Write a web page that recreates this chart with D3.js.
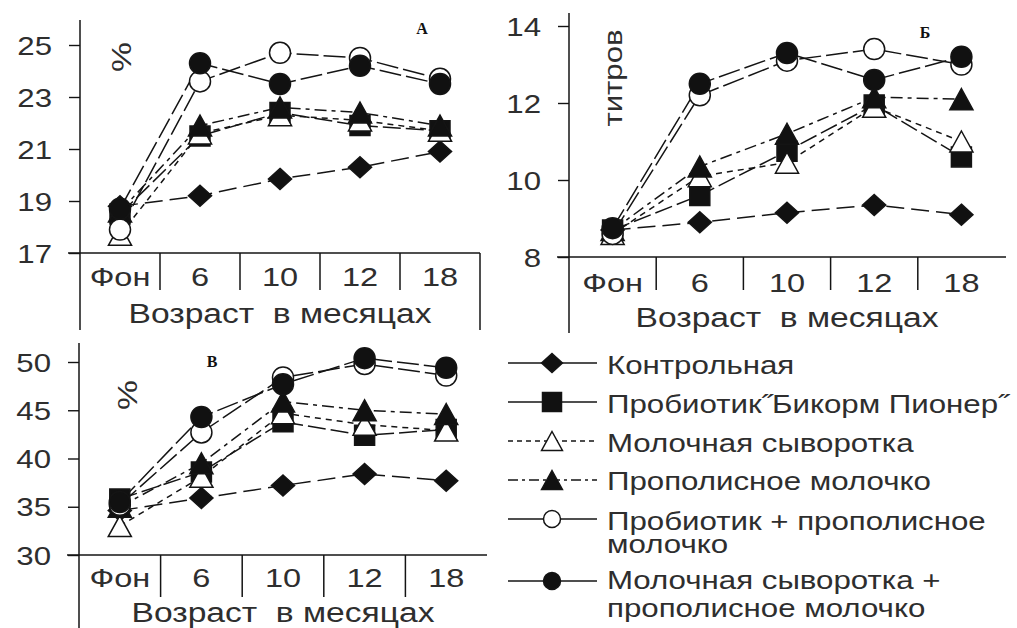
<!DOCTYPE html>
<html>
<head>
<meta charset="utf-8">
<script src="https://cdn.jsdelivr.net/npm/d3@7"></script>
<style>
  body { margin: 0; background: #fff; }
  svg { display: block; }
</style>
</head>
<body>
<svg id="chart" width="1017" height="628"></svg>
<script>
// Age points (x categories), shared by all three panels
const ages = ["Фон", "6", "10", "12", "18"];

// Group names (legend order); "|" marks a line break
const groups = [
  "Контрольная",
  "Пробиотик\u02DDБикорм Пионер\u02DD",
  "Молочная сыворотка",
  "Прополисное молочко",
  "Пробиотик + прополисное|молочко",
  "Молочная сыворотка +|прополисное молочко"
];

// Panel А, %
const panelA_control   = [18.8, 19.2, 19.85, 20.3, 20.9];
const panelA_probiotic = [18.5, 21.5, 22.4, 21.9, 21.7];
const panelA_whey      = [17.7, 21.6, 22.3, 22.1, 21.7];
const panelA_propolis  = [18.6, 21.9, 22.6, 22.4, 21.9];
const panelA_probProp  = [17.9, 23.6, 24.7, 24.5, 23.7];
const panelA_wheyProp  = [18.7, 24.3, 23.5, 24.2, 23.5];
const panelA_ticks     = [17, 19, 21, 23, 25];

// Panel Б, титров
const panelB_control   = [8.7, 8.9, 9.15, 9.35, 9.1];
const panelB_probiotic = [8.7, 9.6, 10.75, 11.95, 10.6];
const panelB_whey      = [8.6, 10.1, 10.45, 11.9, 11.0];
const panelB_propolis  = [8.7, 10.35, 11.2, 12.15, 12.1];
const panelB_probProp  = [8.6, 12.2, 13.1, 13.4, 13.0];
const panelB_wheyProp  = [8.75, 12.5, 13.3, 12.6, 13.2];
const panelB_ticks     = [8, 10, 12, 14];

// Panel В, %
const panelC_control   = [34.6, 35.9, 37.2, 38.4, 37.7];
const panelC_probiotic = [35.8, 38.6, 43.8, 42.4, 43.0];
const panelC_whey      = [33.0, 38.1, 44.7, 43.5, 42.9];
const panelC_propolis  = [35.0, 39.5, 45.9, 45.0, 44.6];
const panelC_probProp  = [35.2, 42.7, 48.4, 49.8, 48.6];
const panelC_wheyProp  = [35.5, 44.3, 47.7, 50.4, 49.4];
const panelC_ticks     = [30, 35, 40, 45, 50];

const xTitle = "Возраст  в месяцах";

// Marker / line style per group
const styles = [
  { marker: "diamond",  fill: "#111", plotDash: "18,7",      legendDash: null },
  { marker: "square",   fill: "#111", plotDash: "18,5",      legendDash: null },
  { marker: "triangle", fill: "#fff", plotDash: "6,5",       legendDash: "5,4" },
  { marker: "triangle", fill: "#111", plotDash: "12,5,4,5",  legendDash: "10,4,3,4" },
  { marker: "circle",   fill: "#fff", plotDash: "22,5",      legendDash: null },
  { marker: "circle",   fill: "#111", plotDash: "22,5",      legendDash: null }
];

const INK = "#141414";
const TEXT = "#2e2e2e";
const FONT = "'Liberation Sans', Arial, sans-serif";
const STRETCH = 1.2;

const svg = d3.select("#chart");

function label(g, x, y, str, opt = {}) {
  const size = opt.size || 26;
  const sx = opt.stretch === undefined ? STRETCH : opt.stretch;
  const rot = opt.rotate || 0;
  g.append("text")
    .attr("transform", `translate(${x},${y}) rotate(${rot}) scale(${sx},1)`)
    .attr("text-anchor", opt.anchor || "start")
    .attr("font-family", opt.family || FONT)
    .attr("font-weight", opt.weight || "normal")
    .attr("font-size", size)
    .attr("fill", opt.fill || TEXT)
    .style("white-space", "pre")
    .text(str);
}

function markerPath(type, size) {
  const s = size;
  if (type === "diamond") {
    const w = s * 0.55, h = s * 0.5;
    return `M0,${-h}L${w},0L0,${h}L${-w},0Z`;
  }
  if (type === "square") {
    const h = s / 2;
    return `M${-h},${-h}H${h}V${h}H${-h}Z`;
  }
  if (type === "triangle") {
    const w = s * 0.55, h = s * 0.5;
    return `M0,${-h}L${w},${h}L${-w},${h}Z`;
  }
  return null;
}

function drawMarker(g, type, fill, x, y, size) {
  if (type === "circle") {
    g.append("circle")
      .attr("cx", x).attr("cy", y).attr("r", size / 2)
      .attr("fill", fill).attr("stroke", INK).attr("stroke-width", 1.5);
  } else {
    g.append("path")
      .attr("d", markerPath(type, size))
      .attr("transform", `translate(${x},${y})`)
      .attr("fill", fill).attr("stroke", INK).attr("stroke-width", 1.5)
      .attr("stroke-linejoin", "miter");
  }
}

function panel(cfg) {
  const g = svg.append("g");
  const x = d3.scaleBand().domain(ages).range([cfg.x0, cfg.x1]).padding(0);
  const y = d3.scaleLinear().domain(cfg.domain).range(cfg.yRange);
  const yBase = y(cfg.domain[0]);

  // y axis with outward ticks
  const yAxis = d3.axisLeft(y).tickValues(cfg.ticks).tickSize(11).tickFormat("");
  const ya = g.append("g").attr("transform", `translate(${cfg.x0},0)`).call(yAxis);
  ya.select(".domain").remove();
  ya.selectAll(".tick line").attr("stroke", INK).attr("stroke-width", 1.4);
  g.append("line")
    .attr("x1", cfg.x0).attr("x2", cfg.x0)
    .attr("y1", cfg.axisTop).attr("y2", cfg.axisBottom)
    .attr("stroke", INK).attr("stroke-width", 1.5);
  cfg.ticks.forEach(t => label(g, cfg.x0 - 28, y(t) + 9.5, String(t), { anchor: "end", size: 26 }));

  // x axis line and category dividers
  g.append("line")
    .attr("x1", cfg.x0 - 12).attr("x2", cfg.xLineEnd)
    .attr("y1", yBase).attr("y2", yBase)
    .attr("stroke", INK).attr("stroke-width", 1.5);
  ages.slice(1).forEach(a => {
    g.append("line")
      .attr("x1", x(a)).attr("x2", x(a))
      .attr("y1", yBase).attr("y2", yBase + cfg.dividerLen)
      .attr("stroke", INK).attr("stroke-width", 1.5);
  });
  if (cfg.rightBorder) {
    g.append("line")
      .attr("x1", cfg.x1).attr("x2", cfg.x1)
      .attr("y1", yBase).attr("y2", cfg.axisBottom)
      .attr("stroke", INK).attr("stroke-width", 1.5);
  }
  ages.forEach(a => label(g, x(a) + x.bandwidth() / 2, yBase + cfg.catDy, a,
                          { anchor: "middle", size: 26, stretch: 1.25 }));
  label(g, (cfg.x0 + cfg.x1) / 2, yBase + cfg.titleDy, xTitle, { anchor: "middle", size: 28 });

  // unit and panel letter
  label(g, cfg.unit[0], cfg.unit[1], cfg.unit[2], { anchor: "middle", size: cfg.unit[3], rotate: -90 });
  label(g, cfg.letter[0], cfg.letter[1], cfg.letter[2],
        { anchor: "middle", size: 16, weight: "bold", family: "'Liberation Serif', 'Times New Roman', serif", stretch: 1, fill: "#111" });

  // series lines
  const line = d3.line().x((d, i) => x(ages[i]) + x.bandwidth() / 2).y(d => y(d));
  cfg.series.forEach((vals, k) => {
    g.append("path")
      .attr("d", line(vals))
      .attr("fill", "none")
      .attr("stroke", INK)
      .attr("stroke-width", 1.5)
      .attr("stroke-dasharray", styles[k].plotDash);
  });
  // series markers
  cfg.series.forEach((vals, k) => {
    const st = styles[k];
    const size = st.marker === "square" ? 20 : 21;
    vals.forEach((v, i) => drawMarker(g, st.marker, st.fill, x(ages[i]) + x.bandwidth() / 2, y(v), size));
  });
}

panel({
  x0: 80, x1: 480, xLineEnd: 480, domain: [17, 25], yRange: [253, 45],
  ticks: panelA_ticks, axisTop: 20, axisBottom: 330, dividerLen: 37, rightBorder: true,
  catDy: 33, titleDy: 70,
  unit: [131, 57, "%", 28], letter: [422, 34, "А"],
  series: [panelA_control, panelA_probiotic, panelA_whey, panelA_propolis, panelA_probProp, panelA_wheyProp]
});

panel({
  x0: 569, x1: 1005, xLineEnd: 1006, domain: [8, 14], yRange: [257, 26],
  ticks: panelB_ticks, axisTop: 13, axisBottom: 333, dividerLen: 33, rightBorder: false,
  catDy: 35, titleDy: 70,
  unit: [622, 78, "титров", 26], letter: [925, 38, "Б"],
  series: [panelB_control, panelB_probiotic, panelB_whey, panelB_propolis, panelB_probProp, panelB_wheyProp]
});

panel({
  x0: 79, x1: 487, xLineEnd: 487, domain: [30, 50], yRange: [555, 362],
  ticks: panelC_ticks, axisTop: 343, axisBottom: 628, dividerLen: 42, rightBorder: false,
  catDy: 32, titleDy: 67,
  unit: [137, 395, "%", 28], letter: [212, 367, "В"],
  series: [panelC_control, panelC_probiotic, panelC_whey, panelC_propolis, panelC_probProp, panelC_wheyProp]
});

// Legend
const legend = svg.append("g");
const legendRows = [363, 402, 441, 480, 519, 581];
const legendBaselines = [[374], [413], [452], [490], [530, 553], [589, 617]];
groups.forEach((name, k) => {
  const st = styles[k];
  const yy = legendRows[k];
  legend.append("line")
    .attr("x1", 508).attr("x2", 597).attr("y1", yy).attr("y2", yy)
    .attr("stroke", INK).attr("stroke-width", 1.5)
    .attr("stroke-dasharray", st.legendDash);
  const size = st.marker === "circle" ? 17 : 19;
  drawMarker(legend, st.marker, st.fill, 552, yy, size);
  name.split("|").forEach((part, j) => {
    label(legend, 607, legendBaselines[k][j], part, { size: 25, stretch: 1.25 });
  });
});
</script>
</body>
</html>
